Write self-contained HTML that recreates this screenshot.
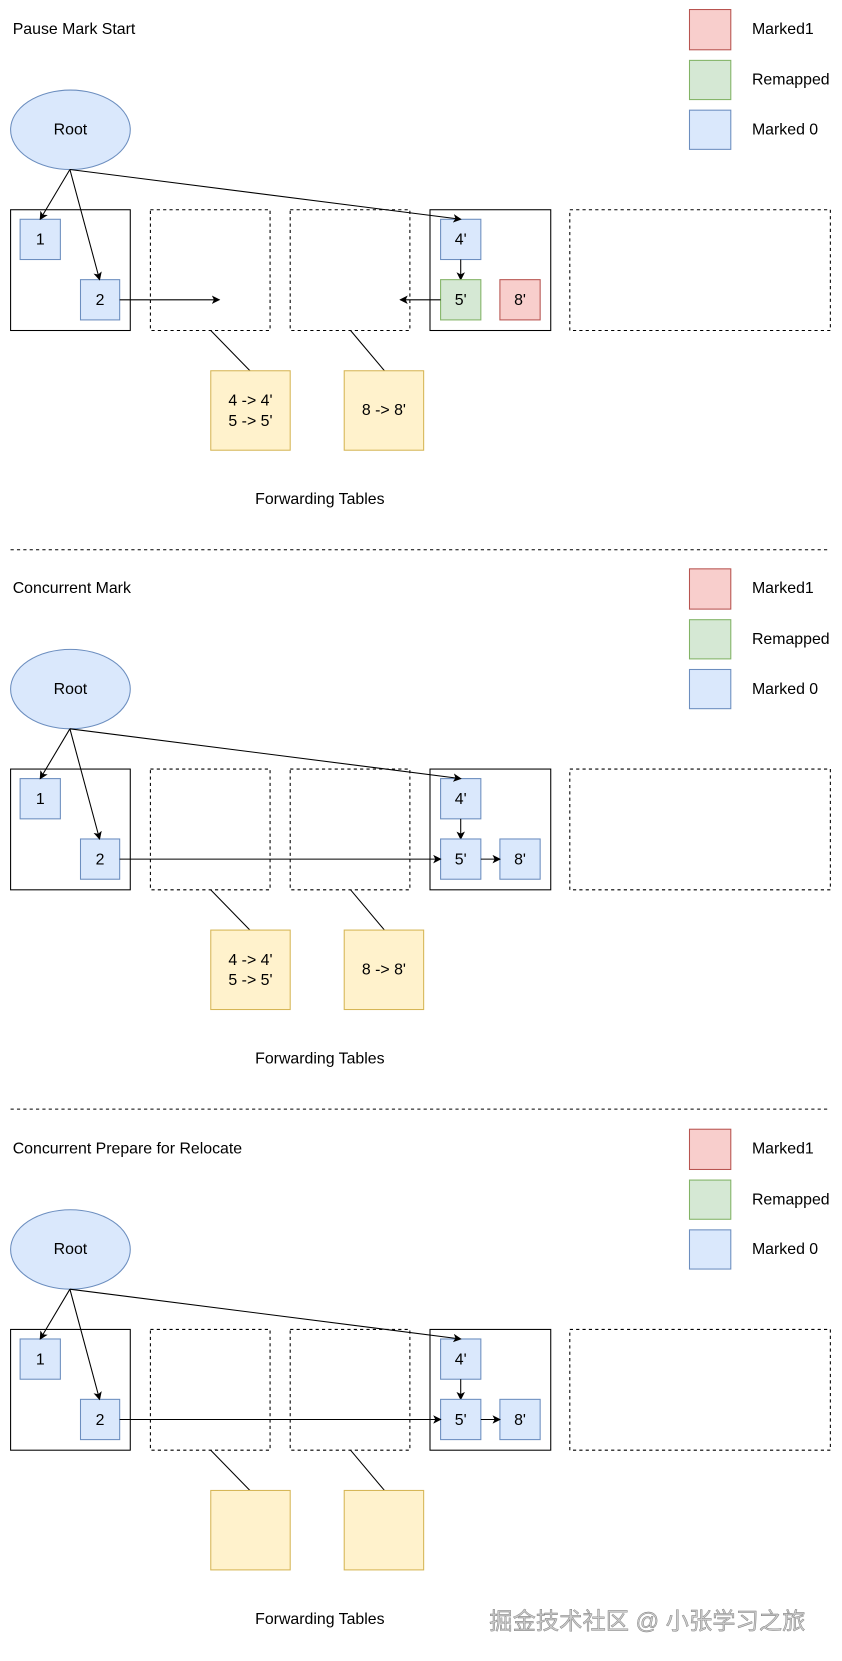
<!DOCTYPE html>
<html><head><meta charset="utf-8"><style>
html,body{margin:0;padding:0;background:#fff;}
svg{display:block;}
text{font-family:"Liberation Sans","Noto Sans CJK SC",sans-serif;font-size:15px;fill:#000;}
</style></head><body>
<svg width="842" height="1661" viewBox="0 0 795 1568" preserveAspectRatio="none" xmlns="http://www.w3.org/2000/svg">
<defs>
<marker id="ar" markerWidth="8" markerHeight="8" refX="7" refY="4" orient="auto" markerUnits="userSpaceOnUse">
<path d="M0,0 L8,4 L0,8 L2,4 Z" fill="#000"/>
</marker>
<g id="common">
<rect x="651" y="9" width="39" height="38" fill="#f8cecc" stroke="#b85450"/>
<rect x="651" y="57" width="39" height="37" fill="#d5e8d4" stroke="#82b366"/>
<rect x="651" y="104" width="39" height="37" fill="#dae8fc" stroke="#6c8ebf"/>
<text x="710" y="32">Marked1</text>
<text x="710" y="80">Remapped</text>
<text x="710" y="127">Marked 0</text>
<ellipse cx="66.5" cy="122.5" rx="56.5" ry="37.5" fill="#dae8fc" stroke="#6c8ebf"/>
<text x="66.5" y="127" text-anchor="middle">Root</text>
<rect x="10" y="198" width="113" height="114" fill="none" stroke="#000"/>
<rect x="142" y="198" width="113" height="114" fill="none" stroke="#000" stroke-dasharray="3,3"/>
<rect x="274" y="198" width="113" height="114" fill="none" stroke="#000" stroke-dasharray="3,3"/>
<rect x="406" y="198" width="114" height="114" fill="none" stroke="#000"/>
<rect x="538" y="198" width="246" height="114" fill="none" stroke="#000" stroke-dasharray="3,3"/>
<rect x="19" y="207" width="38" height="38" fill="#dae8fc" stroke="#6c8ebf"/>
<text x="38" y="231" text-anchor="middle">1</text>
<rect x="76" y="264" width="37" height="38" fill="#dae8fc" stroke="#6c8ebf"/>
<text x="94.5" y="288" text-anchor="middle">2</text>
<rect x="416" y="207" width="38" height="38" fill="#dae8fc" stroke="#6c8ebf"/>
<text x="435" y="231" text-anchor="middle">4'</text>
<line x1="66" y1="160" x2="38" y2="207" stroke="#000" marker-end="url(#ar)"/>
<line x1="66" y1="160" x2="94" y2="264" stroke="#000" marker-end="url(#ar)"/>
<line x1="66" y1="160" x2="435" y2="207" stroke="#000" marker-end="url(#ar)"/>
<line x1="435" y1="245" x2="435" y2="264" stroke="#000" marker-end="url(#ar)"/>
<line x1="199" y1="312" x2="236" y2="350" stroke="#000"/>
<line x1="331" y1="312" x2="363" y2="350" stroke="#000"/>
<rect x="199" y="350" width="75" height="75" fill="#fff2cc" stroke="#d6b656"/>
<rect x="325" y="350" width="75" height="75" fill="#fff2cc" stroke="#d6b656"/>
<text x="302" y="476" text-anchor="middle">Forwarding Tables</text>
</g>
</defs>

<use href="#common"/>
<text x="12" y="32">Pause Mark Start</text>
<rect x="416" y="264" width="38" height="38" fill="#d5e8d4" stroke="#82b366"/>
<text x="435" y="288" text-anchor="middle">5'</text>
<rect x="472" y="264" width="38" height="38" fill="#f8cecc" stroke="#b85450"/>
<text x="491" y="288" text-anchor="middle">8'</text>
<line x1="113" y1="283" x2="207" y2="283" stroke="#000" marker-end="url(#ar)"/>
<line x1="416" y1="283" x2="378" y2="283" stroke="#000" marker-end="url(#ar)"/>
<text x="236.5" y="383" text-anchor="middle">4 -&gt; 4'</text>
<text x="236.5" y="402" text-anchor="middle">5 -&gt; 5'</text>
<text x="362.5" y="392" text-anchor="middle">8 -&gt; 8'</text>
<line x1="10" y1="519" x2="784" y2="519" stroke="#000" stroke-dasharray="3,3"/>

<g transform="translate(0,528)">
<use href="#common"/>
<text x="12" y="32">Concurrent Mark</text>
<rect x="416" y="264" width="38" height="38" fill="#dae8fc" stroke="#6c8ebf"/>
<text x="435" y="288" text-anchor="middle">5'</text>
<rect x="472" y="264" width="38" height="38" fill="#dae8fc" stroke="#6c8ebf"/>
<text x="491" y="288" text-anchor="middle">8'</text>
<line x1="113" y1="283" x2="416" y2="283" stroke="#000" marker-end="url(#ar)"/>
<line x1="454" y1="283" x2="472" y2="283" stroke="#000" marker-end="url(#ar)"/>
<text x="236.5" y="383" text-anchor="middle">4 -&gt; 4'</text>
<text x="236.5" y="402" text-anchor="middle">5 -&gt; 5'</text>
<text x="362.5" y="392" text-anchor="middle">8 -&gt; 8'</text>
<line x1="10" y1="519" x2="784" y2="519" stroke="#000" stroke-dasharray="3,3"/>
</g>

<g transform="translate(0,1057)">
<use href="#common"/>
<text x="12" y="32">Concurrent Prepare for Relocate</text>
<rect x="416" y="264" width="38" height="38" fill="#dae8fc" stroke="#6c8ebf"/>
<text x="435" y="288" text-anchor="middle">5'</text>
<rect x="472" y="264" width="38" height="38" fill="#dae8fc" stroke="#6c8ebf"/>
<text x="491" y="288" text-anchor="middle">8'</text>
<line x1="113" y1="283" x2="416" y2="283" stroke="#000" marker-end="url(#ar)"/>
<line x1="454" y1="283" x2="472" y2="283" stroke="#000" marker-end="url(#ar)"/>
</g>

<text x="462" y="1538" style="font-size:22px;fill:#ccc;stroke:#777;stroke-width:0.4">掘金技术社区 @ 小张学习之旅</text>
</svg>
</body></html>
